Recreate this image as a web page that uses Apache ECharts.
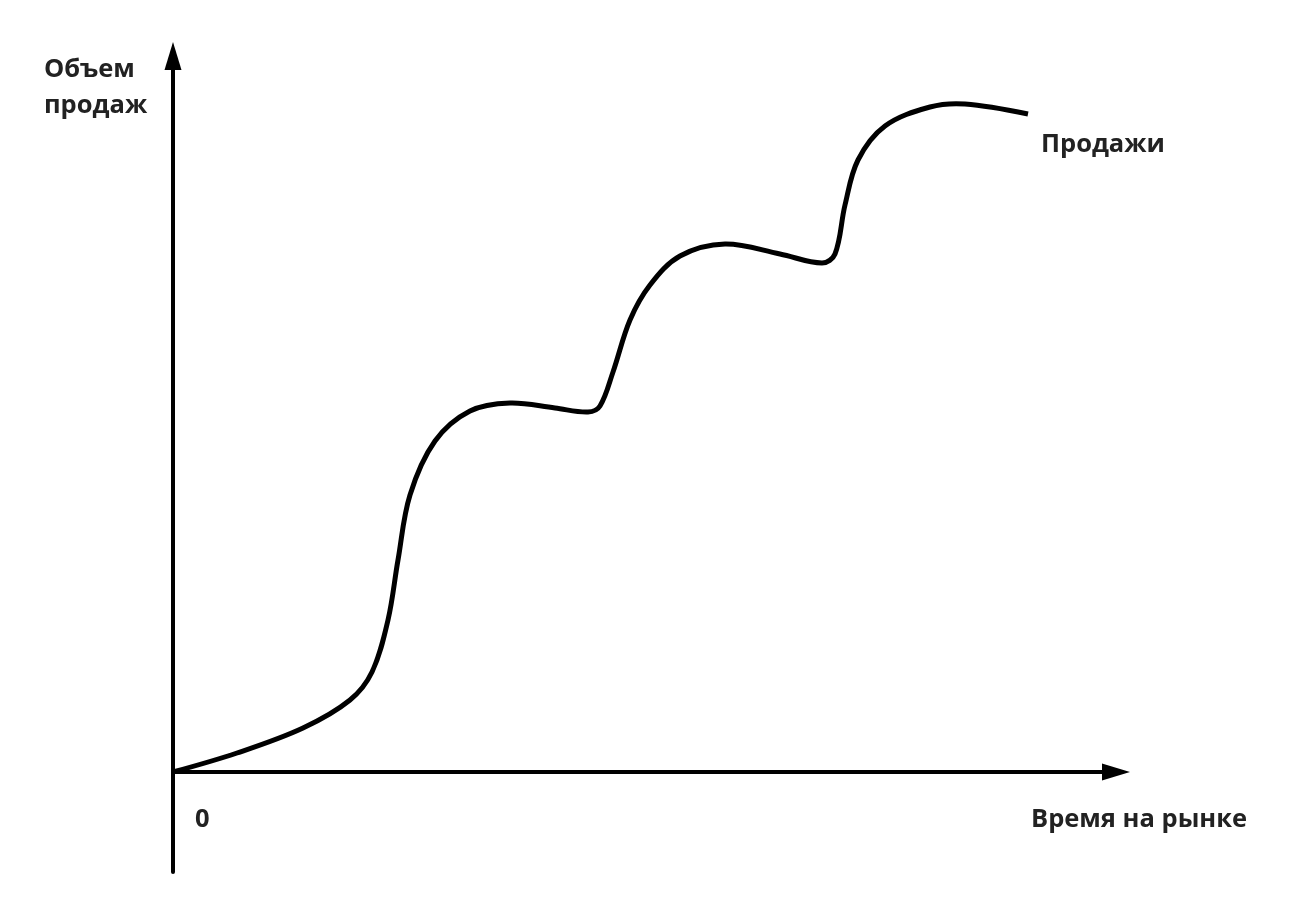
<!DOCTYPE html>
<html>
<head>
<meta charset="utf-8">
<title>Продажи</title>
<script src="https://cdn.jsdelivr.net/npm/echarts@6/dist/echarts.min.js"></script>
<style>
  html, body { margin: 0; padding: 0; background: #fff; }
  #main { width: 1312px; height: 905px; }
</style>
</head>
<body>
<div id="main"></div>
<script>
// время на рынке (условные единицы)
var timeValues = [0, 64, 130, 177, 199, 215, 225, 237, 262, 297, 337, 382, 415, 427,
  440, 457, 477, 507, 552, 607, 649, 662, 672, 685, 712, 757, 792, 855];
// объем продаж (условные единицы)
var salesValues = [0, 19, 44, 72, 100, 152, 212, 277, 331, 361, 369, 364, 360, 366,
  400, 452, 487, 516, 528, 518, 509, 518, 567, 612, 646, 665, 668, 658];

var seriesName = 'Продажи';
var xTitle = 'Время на рынке';
var yTitleLines = ['Объем', 'продаж'];
var originLabel = '0';

var chart = echarts.init(document.getElementById('main'));

var points = timeValues.map(function (t, i) { return [t, salesValues[i]]; });

var fontFamily = '"Open Sans", sans-serif';
var textFont = {
  fontFamily: fontFamily,
  fontWeight: 'bold',
  fontSize: 25.5,
  fill: '#222',
  verticalAlign: 'middle'
};

function label(text, x, y) {
  return { type: 'text', x: x, y: y, style: Object.assign({ text: text }, textFont) };
}

// кривая рисуется одним сглаженным контуром через все точки
function renderCurve(params, api) {
  if (params.dataIndex !== 0) return null;
  var pts = points.map(function (p) { return api.coord(p); });
  var last = pts[pts.length - 1];
  return {
    type: 'group',
    children: [
      {
        type: 'polyline',
        shape: { points: pts, smooth: 0.35 },
        style: { stroke: '#000', lineWidth: 5, fill: null, lineCap: 'butt', lineJoin: 'round' }
      },
      {
        type: 'text',
        x: last[0] + 13,
        y: last[1] + 31,
        style: Object.assign({ text: seriesName }, textFont)
      }
    ]
  };
}

var axisLine = {
  show: true,
  onZero: true,
  symbol: ['none', 'triangle'],
  symbolSize: [17, 28],
  lineStyle: { color: '#000', width: 4 }
};

var option = {
  animation: false,
  grid: { left: 173, right: 196, top: 56, bottom: 33 },
  xAxis: {
    type: 'value',
    min: 0,
    max: 943,
    axisLine: axisLine,
    axisTick: { show: false },
    axisLabel: { show: false },
    splitLine: { show: false }
  },
  yAxis: {
    type: 'value',
    min: -100,
    max: 716,
    axisLine: axisLine,
    axisTick: { show: false },
    axisLabel: { show: false },
    splitLine: { show: false }
  },
  series: [{
    name: seriesName,
    type: 'custom',
    data: points,
    renderItem: renderCurve
  }],
  graphic: [
    label(yTitleLines[0], 44, 70),
    label(yTitleLines[1], 44, 106),
    label(xTitle, 1031, 820),
    label(originLabel, 195, 820)
  ]
};

chart.setOption(option);
</script>
</body>
</html>
